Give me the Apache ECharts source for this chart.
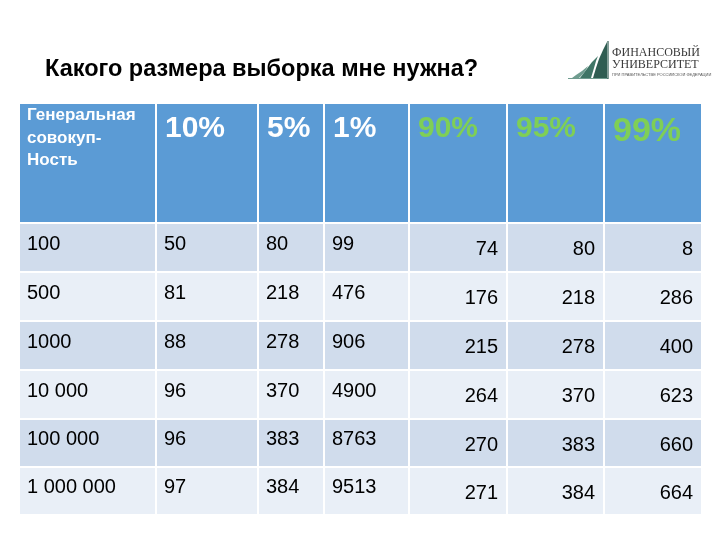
<!DOCTYPE html>
<html>
<head>
<meta charset="utf-8">
<script src="https://cdn.jsdelivr.net/npm/echarts@6/dist/echarts.min.js"></script>
<style>html,body{margin:0;padding:0;background:#fff}#c{width:720px;height:540px}</style>
</head>
<body>
<div id="c"></div>
<script>
// ---- data ----
const titleText = 'Какого размера выборка мне нужна?';
const headers = ['Генеральная\nсовокуп-\nНость', '10%', '5%', '1%', '90%', '95%', '99%'];
const population = ['100', '500', '1000', '10 000', '100 000', '1 000 000'];
const err10 = [50, 81, 88, 96, 96, 97];
const err5 = [80, 218, 278, 370, 383, 384];
const err1 = [99, 476, 906, 4900, 8763, 9513];
const conf90 = [74, 176, 215, 264, 270, 271];
const conf95 = [80, 218, 278, 370, 383, 384];
const conf99 = [8, 286, 400, 623, 660, 664];

// ---- layout (axis units) ----
const colWidths = [137, 102, 66, 85, 98, 97, 98];
const rowHeights = [120, 49, 49, 49, 49, 48, 48];
const totalW = colWidths.reduce((a, b) => a + b, 0);
const totalH = rowHeights.reduce((a, b) => a + b, 0);
const colStart = colWidths.map((w, i) => colWidths.slice(0, i).reduce((a, b) => a + b, 0));
const rowStart = rowHeights.map((h, i) => rowHeights.slice(0, i).reduce((a, b) => a + b, 0));

const columns = [population, err10, err5, err1, conf90, conf95, conf99];
const cells = [];
headers.forEach((h, c) => cells.push([c, 0, h]));
for (let r = 0; r < population.length; r++) {
  columns.forEach((col, c) => cells.push([c, r + 1, String(col[r])]));
}

const headerBlue = '#5b9bd5';
const rowDark = '#d0dcec';
const rowLight = '#e9eff7';
const green = '#7fcf55';

function renderItem(params, api) {
  const c = api.value(0), r = api.value(1);
  const text = cells[params.dataIndex][2];
  const p0 = api.coord([colStart[c], rowStart[r]]);
  const p1 = api.coord([colStart[c] + colWidths[c], rowStart[r] + rowHeights[r]]);
  const x = p0[0] + 1, y = p0[1] + 1, w = p1[0] - p0[0] - 2, h = p1[1] - p0[1] - 2;
  const fill = r === 0 ? headerBlue : (r % 2 === 1 ? rowDark : rowLight);
  const children = [{ type: 'rect', shape: { x, y, width: w, height: h }, style: { fill } }];
  let ts;
  if (r === 0) {
    if (c === 0) {
      ts = { text, x: x + 7, y: y + 0.5, fill: '#fff', font: 'bold 17px "Liberation Sans", Arial, sans-serif', lineHeight: 22.5, align: 'left', verticalAlign: 'top' };
    } else {
      const big = c === 6;
      ts = { text, x: x + 8, y: y + 25 + (big ? 3 : 0), fill: c >= 4 ? green : '#fff', font: 'bold ' + (big ? 34 : 30) + 'px "Liberation Sans", Arial, sans-serif', align: 'left', verticalAlign: 'middle' };
    }
  } else if (c <= 3) {
    ts = { text, x: x + 7, y: y + h / 2 - 3.5, fill: '#000', font: '20px "Liberation Sans", Arial, sans-serif', align: 'left', verticalAlign: 'middle' };
  } else {
    ts = { text, x: x + w - 8, y: y + h / 2 + 2, fill: '#000', font: '20px "Liberation Sans", Arial, sans-serif', align: 'right', verticalAlign: 'middle' };
  }
  children.push({ type: 'text', style: ts });
  return { type: 'group', children };
}

const chart = echarts.init(document.getElementById('c'), null, { renderer: 'canvas' });
chart.setOption({
  animation: false,
  backgroundColor: '#fff',
  title: {
    text: titleText, left: 40, top: 53,
    textStyle: { fontFamily: '"Liberation Sans", Arial, sans-serif', fontWeight: 'bold', fontSize: 23.5, color: '#000' }
  },
  grid: { left: 19, top: 103, width: totalW, height: totalH },
  xAxis: { type: 'value', min: 0, max: totalW, show: false },
  yAxis: { type: 'value', min: 0, max: totalH, inverse: true, show: false },
  series: [{ type: 'custom', renderItem, data: cells.map(d => [d[0], d[1]]), clip: false }],
  graphic: [
    { type: 'polygon', shape: { points: [[607,42],[603,50],[599,59],[596,68],[593,78],[607,78]] }, style: { fill: '#2f5d52' } },
    { type: 'polygon', shape: { points: [[598,56],[592,62],[586,70],[580,78],[591,78],[594,68],[596,61]] }, style: { fill: '#3f7566' } },
    { type: 'polygon', shape: { points: [[588,66],[582,71],[576,75],[572,78],[579,78],[583,74],[586,70]] }, style: { fill: '#6f9c8f' } },
    { type: 'line', shape: { x1: 568, y1: 78.5, x2: 608, y2: 78.5 }, style: { stroke: '#6f9c8f', lineWidth: 1 } },
    { type: 'line', shape: { x1: 608, y1: 41, x2: 608, y2: 79 }, style: { stroke: '#2f5d52', lineWidth: 1.2 } },
    { type: 'text', x: 612, y: 53, style: { text: 'ФИНАНСОВЫЙ', font: '12px "Liberation Serif", "DejaVu Serif", serif', fill: '#3a3a3a', verticalAlign: 'middle' } },
    { type: 'text', x: 612, y: 65, style: { text: 'УНИВЕРСИТЕТ', font: '12px "Liberation Serif", "DejaVu Serif", serif', fill: '#3a3a3a', verticalAlign: 'middle' } },
    { type: 'text', x: 612, y: 75, style: { text: 'ПРИ ПРАВИТЕЛЬСТВЕ РОССИЙСКОЙ ФЕДЕРАЦИИ', font: '4px "Liberation Sans", sans-serif', fill: '#555', verticalAlign: 'middle' } }
  ]
});
</script>
</body>
</html>
